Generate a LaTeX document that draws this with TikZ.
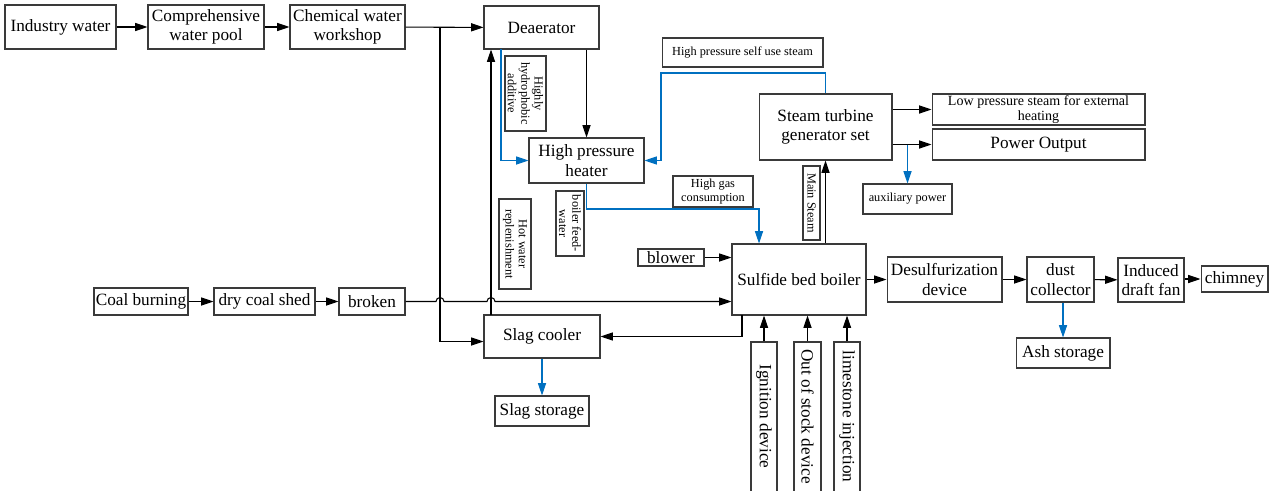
\documentclass[tikz,border=0pt]{standalone}
\usepackage{fontspec}
\setmainfont{Liberation Serif}
\usetikzlibrary{arrows.meta}
\definecolor{Ink}{HTML}{3A3A3A}
\definecolor{Flow}{HTML}{0070C0}
\newcommand{\bigtxt}{\fontsize{9.8}{11}\selectfont}
\newcommand{\midtxt}{\fontsize{8}{9}\selectfont}
\newcommand{\smalltxt}{\fontsize{7}{7.6}\selectfont}

\begin{document}
\begin{tikzpicture}[
  x=0.02cm,y=-0.02cm,
  box/.style={draw=Ink,line width=0.6pt,inner sep=0pt,align=center,font=\bigtxt},
  tag/.style={box,font=\smalltxt},
  vbox/.style={box,rotate=-90},
  vtag/.style={tag,rotate=-90},
  line/.style={draw=black,line width=0.6pt},
  arrow/.style={line,-{Triangle[length=7pt,width=4.6pt]}},
  barrow/.style={draw=Flow,line width=0.6pt,-{Triangle[length=7pt,width=4.6pt]}}
]
\useasboundingbox (0,0) rectangle (1273,490);
% water side
\node[box,minimum width=2.22cm,minimum height=0.88cm] (indw) at (60.5,27) {Industry water};
\node[box,minimum width=2.32cm,minimum height=0.88cm] (pool) at (206,27) {Comprehensive\\water pool};
\node[box,minimum width=2.3cm,minimum height=0.88cm] (chem) at (347.5,27) {Chemical water\\workshop};
\node[box,minimum width=2.3cm,minimum height=0.86cm] (deaer) at (541.5,27.5) {Deaerator};
\node[box,minimum width=2.3cm,minimum height=0.9cm] (hph) at (586.5,160.5) {High pressure\\heater};
\node[vtag,minimum width=1.5cm,minimum height=0.82cm] (addv) at (525.5,93.5) {Highly\\hydrophobic\\additive};
\node[vtag,minimum width=1.8cm,minimum height=0.64cm] (hotw) at (515,244) {Hot water\\replenishment};
\node[vtag,minimum width=1.3cm,minimum height=0.56cm] (feed) at (570,223.5) {boiler feed-\\water};
% steam side
\node[tag,minimum width=3.22cm,minimum height=0.58cm] (hpst) at (742.5,52.5) {High pressure self use steam};
\node[box,minimum width=2.66cm,minimum height=1.32cm] (turb) at (825.5,127) {Steam turbine\\generator set};
\node[box,font=\midtxt,minimum width=4.26cm,minimum height=0.62cm] (lps) at (1038.5,109.5) {Low pressure steam for external\\heating};
\node[box,minimum width=4.26cm,minimum height=0.62cm] (pout) at (1038.5,144.5) {Power Output};
\node[tag,minimum width=1.78cm,minimum height=0.6cm] (aux) at (907.5,199) {auxiliary power};
\node[tag,minimum width=1.6cm,minimum height=0.62cm] (hgas) at (713,191.5) {High gas\\consumption};
\node[vtag,minimum width=1.48cm,minimum height=0.34cm] (mst) at (811.5,203) {Main Steam};
% boiler and flue gas
\node[box,minimum width=2.68cm,minimum height=1.42cm] (boiler) at (799,279.5) {Sulfide bed boiler};
\node[box,minimum width=1.32cm,minimum height=0.34cm] (blower) at (671,257.5) {blower};
\node[box,minimum width=2.3cm,minimum height=0.9cm] (desulf) at (944.5,279.5) {Desulfurization\\device};
\node[box,minimum width=1.34cm,minimum height=0.9cm] (dust) at (1060.5,279.5) {dust\\collector};
\node[box,minimum width=1.32cm,minimum height=0.88cm] (idf) at (1151,280) {Induced\\draft fan};
\node[box,minimum width=1.34cm,minimum height=0.52cm] (chim) at (1234.5,279) {chimney};
\node[box,minimum width=1.88cm,minimum height=0.6cm] (ash) at (1063,353) {Ash storage};
\node[vbox,minimum width=3.2cm,minimum height=0.52cm] (ign) at (764,422) {Ignition device\hspace*{0.22cm}};
\node[vbox,minimum width=3.2cm,minimum height=0.54cm] (oos) at (807.5,422) {Out of stock device\hspace*{0.22cm}};
\node[vbox,minimum width=3.2cm,minimum height=0.52cm] (lime) at (847,422) {limestone injection\hspace*{0.22cm}};
% coal side
\node[box,minimum width=1.88cm,minimum height=0.54cm] (coal) at (141,301.5) {Coal burning};
\node[box,minimum width=2.02cm,minimum height=0.54cm] (shed) at (264.5,301.5) {dry coal shed};
\node[box,minimum width=1.32cm,minimum height=0.54cm] (broken) at (372,301.5) {broken};
\node[box,minimum width=2.32cm,minimum height=0.86cm] (slag) at (542,336.5) {Slag cooler};
\node[box,minimum width=1.88cm,minimum height=0.6cm] (slagst) at (542,411) {Slag storage};

\coordinate (v1) at (440,27);
\coordinate (v2) at (491,315);
\coordinate (v3) at (742,315);
\coordinate (b1) at (501,49);
\coordinate (b2) at (661,73);
\coordinate (b3) at (759,209);
\coordinate (jA) at (436,301.5);
\coordinate (jB) at (487,301.5);

\draw[arrow] (indw) -- (pool);
\draw[arrow] (pool) -- (chem);
\draw[arrow] (chem) -- (deaer);
\draw[arrow] (v1) |- ([yshift=-0.1cm]slag.west);
\draw[arrow] (v2) -- (v2 |- deaer.south);
\draw[arrow] (hph.north |- deaer.south) -- (hph.north);
\draw[barrow] (b1) |- (hph.west);
\draw[barrow] (turb.north) |- (b2) |- (hph.east);
\draw[barrow] (hph.south) |- (b3) -- (b3 |- boiler.north);
\draw[arrow] (turb.south |- boiler.north) -- (turb.south);
\draw[arrow] (turb.east |- lps.west) -- (lps.west);
\draw[arrow] (turb.east |- pout.west) -- (pout.west);
\draw[barrow] (aux.north |- pout.west) -- (aux.north);
\draw[arrow] (blower) -- (blower.east -| boiler.west);
\draw[arrow] (boiler.east |- desulf.west) -- (desulf.west);
\draw[arrow] (desulf) -- (dust);
\draw[arrow] (dust) -- (idf);
\draw[arrow] (idf.east |- chim.west) -- (chim.west);
\draw[barrow] (dust.south -| ash.north) -- (ash.north);
\draw[arrow] (ign.west) -- (ign.west |- boiler.south);
\draw[arrow] (oos.west) -- (oos.west |- boiler.south);
\draw[arrow] (lime.west) -- (lime.west |- boiler.south);
\draw[arrow] (v3) |- (slag.east);
\draw[barrow] (slag.south) -- (slagst.north);
\draw[arrow] (coal) -- (shed);
\draw[arrow] (shed) -- (broken);
\draw[arrow] (broken.east) -- (jA) arc[start angle=180,end angle=0,radius=0.08cm]
  -- (jB) arc[start angle=180,end angle=0,radius=0.08cm] -- (boiler.west |- broken.east);
\end{tikzpicture}
\end{document}
